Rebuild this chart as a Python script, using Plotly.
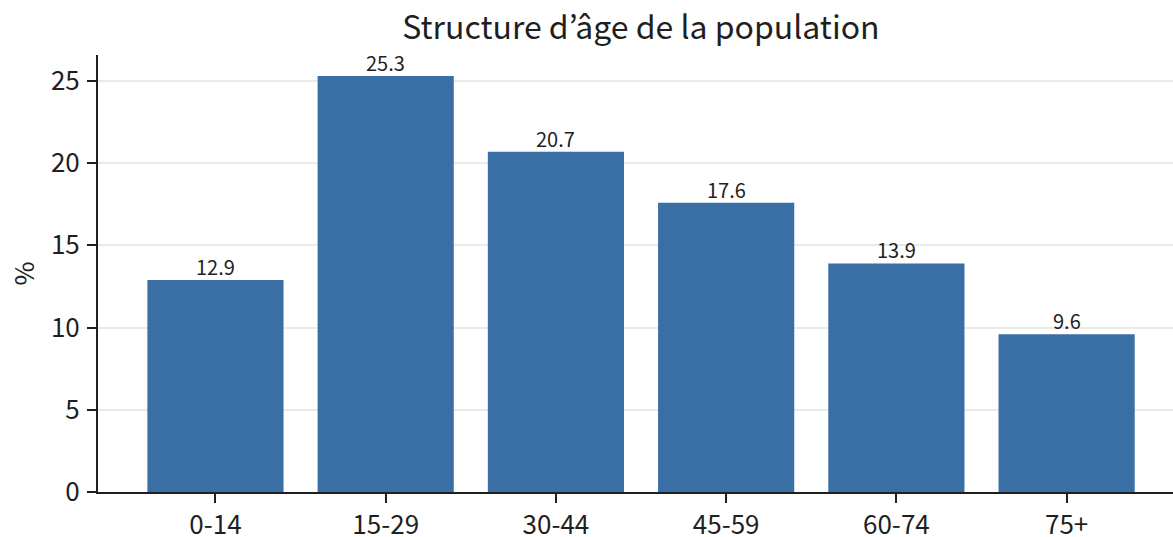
import plotly.graph_objects as go

categories = ["0-14", "15-29", "30-44", "45-59", "60-74", "75+"]
values = [12.9, 25.3, 20.7, 17.6, 13.9, 9.6]
value_labels = ["12.9", "25.3", "20.7", "17.6", "13.9", "9.6"]
y_ticks = [0, 5, 10, 15, 20, 25]

FONT = "Noto Sans CJK JP"
INK = "#1f1f1f"

fig = go.Figure(
    go.Bar(
        x=categories,
        y=values,
        marker=dict(color="#3a6fa5", line=dict(width=0)),
        hoverinfo="x+y",
    )
)

for cat, val, lab in zip(categories, values, value_labels):
    fig.add_annotation(
        x=cat,
        y=val,
        text=lab,
        showarrow=False,
        xanchor="center",
        yanchor="bottom",
        yshift=-3,
        font=dict(family=FONT, size=20, color=INK),
    )

fig.update_layout(
    width=1173,
    height=537,
    margin=dict(l=98, r=0, t=55, b=45, autoexpand=False),
    paper_bgcolor="white",
    plot_bgcolor="white",
    bargap=0.2,
    showlegend=False,
    font=dict(family=FONT, color=INK),
    title=dict(
        text="Structure d’âge de la population",
        x=641 / 1173,
        xanchor="center",
        xref="container",
        y=1 - 28 / 537,
        yanchor="middle",
        yref="container",
        automargin=False,
        font=dict(family=FONT, size=32, color=INK),
    ),
    xaxis=dict(
        type="category",
        range=[-0.69, 5.625],
        showline=True,
        linecolor=INK,
        linewidth=2,
        ticks="outside",
        ticklen=9,
        tickwidth=2,
        tickcolor=INK,
        showgrid=False,
        zeroline=False,
        automargin=False,
        ticklabelstandoff=0,
        tickfont=dict(family=FONT, size=26, color=INK),
    ),
    yaxis=dict(
        range=[0, 26.58],
        tickvals=y_ticks,
        showline=True,
        linecolor=INK,
        linewidth=2,
        ticks="outside",
        ticklen=9,
        tickwidth=2,
        tickcolor=INK,
        showgrid=True,
        gridcolor="rgba(160,160,160,0.22)",
        gridwidth=2,
        zeroline=False,
        automargin=False,
        layer="above traces",
        tickfont=dict(family=FONT, size=26, color=INK),
        ticklabelstandoff=2,
        title=dict(text="%", font=dict(family=FONT, size=26, color=INK), standoff=9),
    ),
)

fig.write_html(
    "out.html",
    config={"displayModeBar": False},
    post_script="document.body.style.margin='0';document.body.style.overflow='hidden';",
)
